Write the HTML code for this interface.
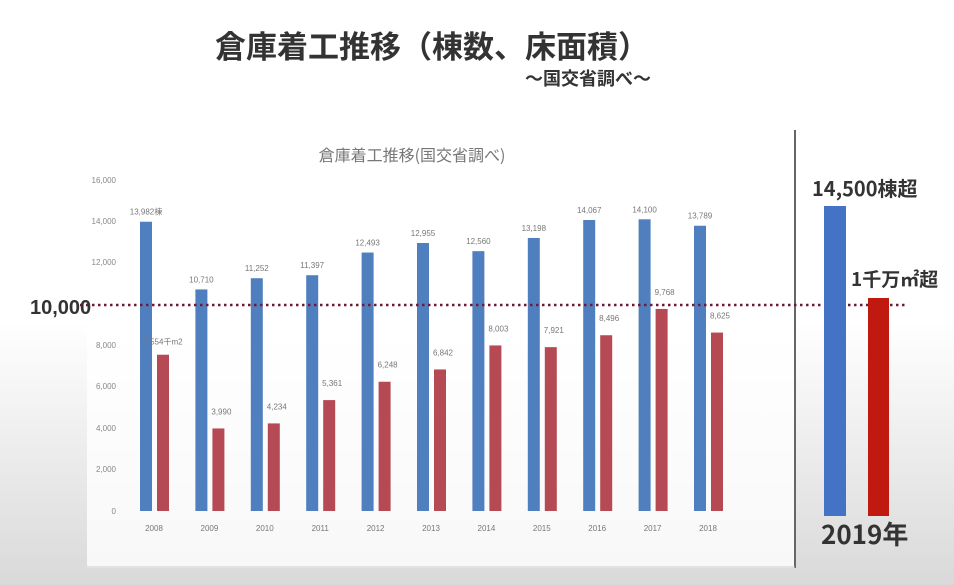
<!DOCTYPE html>
<html><head><meta charset="utf-8"><style>
body{margin:0;width:954px;height:585px;overflow:hidden;background:linear-gradient(#fff 0%,#fff 55%,#d9d9d9 100%);font-family:"Liberation Sans","Noto Sans CJK JP",sans-serif;}
svg{position:absolute;left:0;top:0}
</style></head><body>
<svg width="954" height="585" viewBox="0 0 954 585">
<rect x="87" y="130" width="708" height="438" fill="#fff" opacity="0.8"/>
<line x1="795" y1="130" x2="795" y2="568" stroke="#666" stroke-width="2"/>
<line x1="87" y1="567" x2="795" y2="567" stroke="#ccc"/>
<text x="432" y="58" font-size="31" font-weight="bold" fill="#333" text-anchor="middle" font-family="Noto Sans CJK JP,sans-serif">倉庫着工推移（棟数、床面積）</text>
<text x="588" y="85" font-size="18" font-weight="bold" fill="#333" text-anchor="middle" font-family="Noto Sans CJK JP,sans-serif">～国交省調べ～</text>
<text x="412" y="161" font-size="16" fill="#777" text-anchor="middle" font-family="Noto Sans CJK JP,sans-serif">倉庫着工推移(国交省調べ)</text>
<g font-size="8" fill="#888" text-anchor="end">
<text x="116" y="183">16,000</text><text x="116" y="224">14,000</text><text x="116" y="265">12,000</text>
<text x="116" y="348">8,000</text><text x="116" y="389">6,000</text><text x="116" y="431">4,000</text><text x="116" y="472">2,000</text><text x="116" y="514">0</text>
</g>
<g id="bars"></g>
<line x1="80" y1="305" x2="905" y2="305" stroke="#6b1a3a" stroke-width="2.5" stroke-dasharray="2.5 3.5"/>
<text x="30" y="314" font-size="20" font-weight="bold" fill="#333">10,000</text>
<rect x="824" y="206" width="22" height="310" fill="#4472c4"/>
<rect x="868" y="298" width="21" height="218" fill="#c0190f"/>
<text x="812" y="196" font-size="20" font-weight="bold" fill="#333" font-family="Noto Sans CJK JP,sans-serif">14,500棟超</text>
<text x="851" y="286" font-size="19" font-weight="bold" fill="#333" font-family="Noto Sans CJK JP,sans-serif">1千万㎡超</text>
<text x="821" y="544" font-size="26" font-weight="bold" fill="#333" font-family="Noto Sans CJK JP,sans-serif">2019年</text>
</svg>
<script>
var b=[13982,10710,11252,11397,12493,12955,12560,13198,14067,14100,13789],
r=[7554,3990,4234,5361,6248,6842,8003,7921,8496,9768,8625];
var s='',k=331/16000;
for(var i=0;i<11;i++){var c=154+i*55.4;
var hb=b[i]*k,hr=r[i]*k;
s+='<rect x="'+(c-14)+'" y="'+(511-hb)+'" width="12" height="'+hb+'" fill="#4f7fbf"/>';
s+='<rect x="'+(c+3)+'" y="'+(511-hr)+'" width="12" height="'+hr+'" fill="#b54a55"/>';
s+='<text x="'+(c-8)+'" y="'+(511-hb-7)+'" font-size="8" fill="#777" text-anchor="middle">'+b[i].toLocaleString('en-US')+(i==0?'棟':'')+'</text>';
if(i==0) s+='<text x="'+(c+9)+'" y="'+(511-hr-10)+'" font-size="8" fill="#777" text-anchor="middle">7,554千m2</text>';
else s+='<text x="'+(c+12)+'" y="'+(511-hr-14)+'" font-size="8" fill="#777" text-anchor="middle">'+r[i].toLocaleString('en-US')+'</text>';
s+='<text x="'+c+'" y="531" font-size="8" fill="#777" text-anchor="middle">'+(2008+i)+'</text>';}
document.getElementById('bars').innerHTML=s;
</script>
</body></html>
